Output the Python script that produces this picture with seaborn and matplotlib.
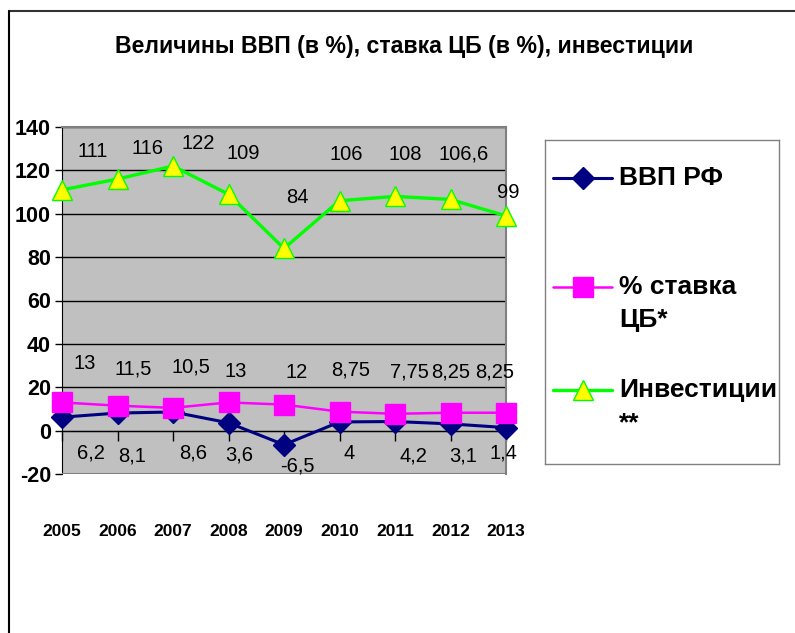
import numpy as np
import pandas as pd
import matplotlib.pyplot as plt
import seaborn as sns
from matplotlib.lines import Line2D

# data
years = [2005, 2006, 2007, 2008, 2009, 2010, 2011, 2012, 2013]
gdp = [6.2, 8.1, 8.6, 3.6, -6.5, 4, 4.2, 3.1, 1.4]
rate = [13, 11.5, 10.5, 13, 12, 8.75, 7.75, 8.25, 8.25]
invest = [111, 116, 122, 109, 84, 106, 108, 106.6, 99]
series_names = ['ВВП РФ', '% ставка\nЦБ*', 'Инвестиции\n**']
y_ticks = [-20, 0, 20, 40, 60, 80, 100, 120, 140]
title = 'Величины ВВП (в %), ставка ЦБ (в %), инвестиции'

df = pd.DataFrame({'year': years, 'gdp': gdp, 'rate': rate, 'invest': invest})

# label offsets (pixels) to mimic Excel's data label placement
gdp_offsets = [(29, -36), (15, -43), (20, -41), (11, -32), (13, -21), (10, -32), (18, -34), (13, -32), (-3, -25)]
rate_offsets = [(23, 39), (16, 37), (18, 41), (7, 31), (13, 32), (11, 42), (14, 42), (0, 41), (-11, 41)]
inv_offsets = [(31, 38), (30, 31), (25, 23), (15, 41), (13, 51), (7, 46), (10, 42), (13, 45), (2, 23)]

sns.set_style('white')
plt.rcParams['font.family'] = ['Liberation Sans', 'DejaVu Sans']
plt.rcParams['text.color'] = 'black'
plt.rcParams['xtick.color'] = 'black'
plt.rcParams['ytick.color'] = 'black'

W, H = 795, 633
fig = plt.figure(figsize=(W / 100, H / 100), dpi=100)
ax = fig.add_axes([62 / W, 1 - 474 / H, 444 / W, 347 / H])

styles = [
    dict(col='gdp', color='#000080', marker='D', ms=11, mfc='#000080', mec='#000080', lw=2.2, offs=gdp_offsets),
    dict(col='rate', color='#FF00FF', marker='s', ms=14, mfc='#FF00FF', mec='#FF00FF', lw=1.8, offs=rate_offsets),
    dict(col='invest', color='#00FF00', marker='^', ms=15, mfc='#FFFF00', mec='#00FF00', lw=2.4, offs=inv_offsets),
]

for st in styles:
    sns.lineplot(data=df, x='year', y=st['col'], ax=ax, color=st['color'],
                 linewidth=st['lw'], marker=st['marker'], markersize=st['ms'],
                 markerfacecolor=st['mfc'], markeredgecolor=st['mec'],
                 markeredgewidth=1, legend=False, clip_on=False, zorder=3)

# data labels
for st in styles:
    for x, v, (dx, dy) in zip(df['year'], df[st['col']], st['offs']):
        ax.annotate(f'{v:g}'.replace('.', ','), (x, v), xytext=(dx, dy),
                    textcoords='offset pixels', ha='center', va='center',
                    fontsize=14.5, color='black', zorder=5)

ax.set_xlim(2005, 2013)
ax.set_ylim(-20, 140)
ax.set_facecolor('#C0C0C0')
ax.set_xlabel('')
ax.set_ylabel('')
ax.set_yticks(y_ticks, [str(v) for v in y_ticks], fontweight='bold', fontsize=15.5)
ax.tick_params(axis='y', left=True, length=5, width=1, pad=3, color='black')
ax.grid(axis='y', color='black', linewidth=1)
ax.set_axisbelow(True)

# category axis crosses at zero
ax.spines['bottom'].set_position(('data', 0))
ax.spines['bottom'].set_color('black')
ax.spines['left'].set_color('black')
for s in ['top', 'right']:
    ax.spines[s].set_color('#808080')
    ax.spines[s].set_linewidth(1.5)
ax.axhline(-20, color='#808080', linewidth=1.5, zorder=2.6)
ax.set_xticks(years)
ax.tick_params(axis='x', bottom=True, direction='out', length=7, width=1,
               labelbottom=False, color='black')

# year labels well below the plot area
sec = ax.secondary_xaxis(-0.145)
sec.set_xticks(years, [str(y) for y in years], fontweight='bold', fontsize=12.5)
sec.tick_params(length=0, pad=0)
sec.spines['bottom'].set_visible(False)

fig.text(404 / W, 1 - 47 / H, title, ha='center', va='center',
         fontsize=16.7, fontweight='bold')

# legend box
lax = fig.add_axes([545 / W, 1 - 464 / H, 234 / W, 324 / H])
lax.set_xlim(0, 234)
lax.set_ylim(324, 0)
lax.set_xticks([])
lax.set_yticks([])
lax.set_facecolor('white')
for s in lax.spines.values():
    s.set_color('#808080')
    s.set_linewidth(1)
for st, name, yy in zip(styles, series_names, [38, 147, 250]):
    lax.plot([8, 38, 67], [yy] * 3, color=st['color'], linewidth=st['lw'],
             marker=st['marker'], markersize=st['ms'], markerfacecolor=st['mfc'],
             markeredgecolor=st['mec'], markeredgewidth=1, markevery=[1])
    for i, line in enumerate(name.split('\n')):
        lax.text(74, yy + i * 33, line, fontsize=19, fontweight='bold', va='center')

# outer chart border (top and left edges visible)
fig.add_artist(Line2D([9 / W, 1], [1 - 11 / H] * 2, transform=fig.transFigure,
                      color='#333333', linewidth=1.5))
fig.add_artist(Line2D([9 / W] * 2, [0, 1 - 11 / H], transform=fig.transFigure,
                      color='black', linewidth=1.5))

fig.savefig('out.png', dpi=100)
